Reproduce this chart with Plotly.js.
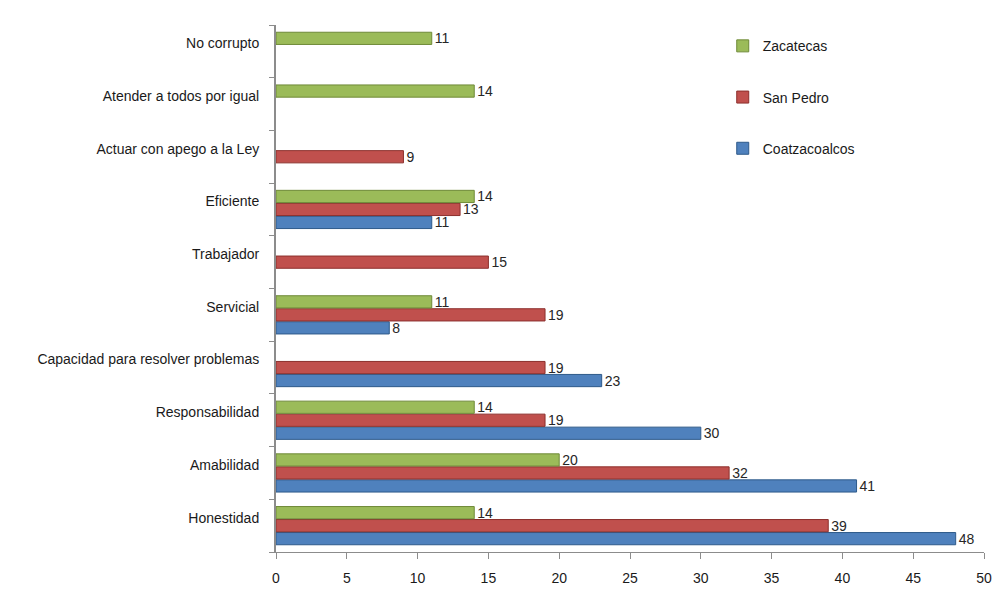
<!DOCTYPE html>
<html>
<head>
<meta charset="utf-8">
<script src="https://cdn.plot.ly/plotly-3.0.1.min.js"></script>
<style>html,body{margin:0;padding:0;background:#fff;}#chart{width:992px;height:590px;}</style>
</head>
<body>
<div id="chart"></div>
<script>
const categories = ["Honestidad","Amabilidad","Responsabilidad","Capacidad para resolver problemas","Servicial","Trabajador","Eficiente","Actuar con apego a la Ley","Atender a todos por igual","No corrupto"];
const coatzacoalcos = [48, 41, 30, 23, 8, null, 11, null, null, null];
const sanPedro = [39, 32, 19, 19, 19, 15, 13, 9, null, null];
const zacatecas = [14, 20, 14, null, 11, null, 14, null, 14, 11];
const xTicks = [0,5,10,15,20,25,30,35,40,45,50];

function mk(name, vals, color, line, rank){
  return {
    type:'bar', orientation:'h', name:name, y:categories, x:vals,
    legendgroup:name, legendrank:rank,
    marker:{color:color, line:{color:line, width:1}},
    text: vals.map(v => v===null ? '' : String(v)),
    textposition:'outside', cliponaxis:false, constraintext:'none', textangle:0,
    textfont:{family:'Liberation Sans, Arial, sans-serif', size:14, color:'#262626'},
    hoverinfo:'x+name'
  };
}
const data = [
  mk('Coatzacoalcos', coatzacoalcos, '#4F81BD', '#2E5A8A', 3),
  mk('San Pedro', sanPedro, '#C0504D', '#8C2F2C', 2),
  mk('Zacatecas', zacatecas, '#9BBB59', '#6F8A38', 1)
];
const layout = {
  width:992, height:590,
  margin:{l:276, r:8, t:25, b:38},
  paper_bgcolor:'#fff', plot_bgcolor:'#fff',
  barmode:'group', bargap:0.26, bargroupgap:0.06,
  font:{family:'Liberation Sans, Arial, sans-serif', size:14, color:'#1a1a1a'},
  xaxis:{range:[0,50], tickvals:xTicks, ticktext:xTicks.map(String), showgrid:false, zeroline:false,
         showline:true, linecolor:'#8c8c8c', linewidth:1, ticks:'outside', ticklen:6, tickcolor:'#8c8c8c',
         ticklabelstandoff:7, tickfont:{size:14}},
  yaxis:{type:'category', categoryorder:'array', categoryarray:categories, range:[-0.5, 9.5],
         showgrid:false, zeroline:false, showline:true, linecolor:'#8c8c8c', linewidth:2,
         ticks:'outside', ticklen:5, tickcolor:'#8c8c8c', tickson:'boundaries',
         ticklabelshift:-8, ticklabelstandoff:12, tickfont:{size:14}},
  legend:{x:0.631, xanchor:'left', y:0.99, yanchor:'top', traceorder:'grouped',
          tracegroupgap:30, itemwidth:30, font:{size:14}, bgcolor:'rgba(0,0,0,0)'},
  showlegend:true
};
Plotly.newPlot('chart', data, layout, {displayModeBar:false, staticPlot:true});
</script>
</body>
</html>
